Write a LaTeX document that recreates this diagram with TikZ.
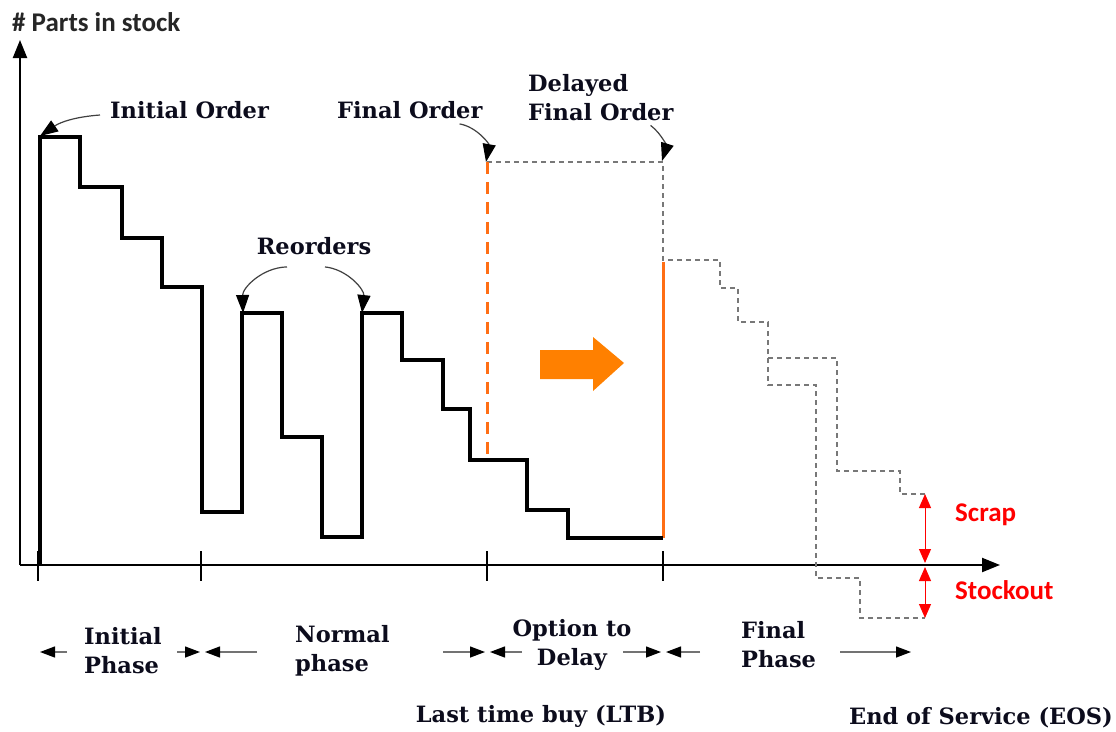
\documentclass[tikz,border=0pt]{standalone}
\usepackage{fontspec}
\setmainfont{DejaVu Serif}
\newfontfamily\carl{Carlito}
\usetikzlibrary{arrows.meta}
\definecolor{labelc}{RGB}{12,12,28}
\definecolor{orng}{RGB}{255,110,20}
\definecolor{orfill}{RGB}{255,128,0}
\definecolor{ghostc}{RGB}{120,120,120}
\begin{document}
\begin{tikzpicture}[x=1pt,y=-1pt,
  lbl/.style={font=\bfseries\fontsize{22.5}{29}\selectfont, text=labelc, inner sep=0pt},
  sanslbl/.style={font=\carl\bfseries\fontsize{27}{30}\selectfont, inner sep=0pt},
  stock/.style={line width=3.2pt, line join=miter, draw=black},
  axis/.style={line width=2.2pt, draw=black, -{Triangle[length=18pt,width=14pt]}},
  tickmark/.style={line width=2pt, draw=black},
  ghost/.style={draw=ghostc, line width=1.1pt, dash pattern=on 5pt off 4pt},
  ptr/.style={draw=black!75, line width=1.2pt, -{Triangle[length=18pt,width=13pt,color=black]}},
  dimarr/.style={draw=black!55, line width=1.3pt, -{Triangle[length=15pt,width=11pt,color=black]}},
  redarr/.style={draw=red, line width=1pt, {Triangle[length=14pt,width=12pt]}-{Triangle[length=14pt,width=12pt]}}
]
\useasboundingbox (0,0) rectangle (1116,731);

% axes
\coordinate (O) at (20,565);
\coordinate (ytop) at (20,40);
\coordinate (xend) at (1000,565);
\draw[axis] (O) -- (ytop);
\draw[axis] (O) -- (xend);

% ticks
\foreach \n/\x in {t1/38,t2/201,t3/487,t4/663}{
  \coordinate (\n) at (\x,565);
  \draw[tickmark] (\x,551) -- (\x,581);
}

% grey dashed delayed scenario
\draw[ghost] (487,162) -- (663,162) -- (663,260) -- (720,260) -- (720,288) -- (738,288)
  -- (738,322) -- (768,322) -- (768,385) -- (816,385) -- (816,578) -- (860,578)
  -- (860,618) -- (925,618);
\draw[ghost] (768,358) -- (837,358) -- (837,471) -- (900,471) -- (900,494) -- (925,494);

% orange lines
\draw[orng, line width=3pt, dash pattern=on 12pt off 8pt] (487,162) -- (487,458);
\draw[orng, line width=3pt] (663,538) -- (663,262);

% stock curve
\coordinate (p0) at (40,136);
\coordinate (r1) at (243,313);
\coordinate (r2) at (362,313);
\coordinate (fo) at (486,162);
\coordinate (dfo) at (662,161);
\draw[stock] (40,565) -- (40,137) -- (80,137) -- (80,187) -- (122,187) -- (122,238) -- (162,238)
  -- (162,287) -- (202,287) -- (202,512) -- (242,512) -- (242,313) -- (282,313)
  -- (282,437) -- (322,437) -- (322,537) -- (362,537) -- (362,313) -- (402,313)
  -- (402,360) -- (443,360) -- (443,409) -- (470,409) -- (470,460) -- (527,460)
  -- (527,510) -- (568,510) -- (568,538) -- (663,538);

% fat orange arrow
\fill[orfill] (540,350) -- (593,350) -- (593,337) -- (624,363) -- (593,391) -- (593,379) -- (540,379) -- cycle;

% scrap / stockout
\coordinate (s1) at (925,494);
\coordinate (s2) at (925,563);
\coordinate (s3) at (925,567);
\coordinate (s4) at (925,618);
\draw[redarr] (s1) -- (s2);
\draw[redarr] (s3) -- (s4);
\node[sanslbl, text=red, anchor=west] (scrap) at (955,515) {Scrap};
\node[sanslbl, text=red, anchor=west] (stockout) at (955,590) {Stockout};

% y label
\node[sanslbl, text=black!85, anchor=west] (ylab) at (12,22) {\# Parts in stock};

% labels with pointers
\node[lbl, anchor=west] (io) at (110,110) {Initial Order};
\draw[ptr] ([xshift=-10pt,yshift=-5pt]io.west) to[bend right=15] (p0);

\node[lbl, anchor=west] (fol) at (337,110) {Final Order};
\draw[ptr] ([xshift=-23pt,yshift=-5pt]fol.south east) to[bend left=45] (fo);

\node[lbl, anchor=west, align=left] (dfol) at (528,98) {Delayed\\Final Order};
\draw[ptr] ([xshift=-23pt,yshift=-4pt]dfol.south east) to[bend left=35] (dfo);

\node[lbl] (reo) at (314,246) {Reorders};
\draw[ptr] ([xshift=-27pt,yshift=-12pt]reo.south) to[bend right=45] (r1);
\draw[ptr] ([xshift=11pt,yshift=-12pt]reo.south) to[bend left=45] (r2);

% phase labels
\node[lbl, anchor=west, align=left] (ph1) at (84,651) {Initial\\Phase};
\node[lbl, anchor=west, align=left] (ph2) at (295,651) {Normal\\phase};
\node[lbl, align=center] (ph3) at (572,645) {Option to\\Delay};
\node[lbl, anchor=west, align=left] (ph4) at (741,645) {Final\\Phase};

\node[lbl] (ltb) at (541,716) {Last time buy (LTB)};
\node[lbl] (eos) at (981,718) {End of Service (EOS)};

% phase arrows
\coordinate (a1s) at (67,652);  \coordinate (a1e) at (40,652);
\coordinate (a2s) at (177,652); \coordinate (a2e) at (200,652);
\coordinate (a3s) at (257,652); \coordinate (a3e) at (205,652);
\coordinate (a4s) at (443,652); \coordinate (a4e) at (485,652);
\coordinate (a5s) at (522,652); \coordinate (a5e) at (490,652);
\coordinate (a6s) at (623,652); \coordinate (a6e) at (661,652);
\coordinate (a7s) at (700,652); \coordinate (a7e) at (666,652);
\coordinate (a8s) at (840,652); \coordinate (a8e) at (911,652);
\foreach \i in {1,...,8}{ \draw[dimarr] (a\i s) -- (a\i e); }
\end{tikzpicture}
\end{document}
